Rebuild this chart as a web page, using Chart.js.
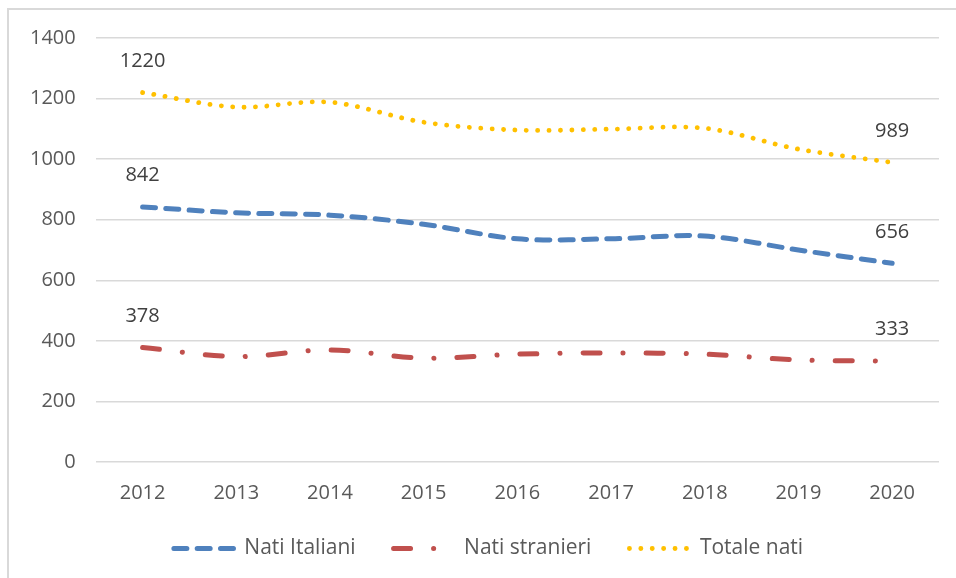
<!DOCTYPE html>
<html>
<head>
<meta charset="utf-8">
<script src="https://cdn.jsdelivr.net/npm/chart.js@4"></script>
<style>
    html, body { margin: 0; padding: 0; background: #fff; overflow: hidden; }
    #frame {
        position: absolute; left: 7px; top: 8px; width: 1200px; height: 800px;
        border-left: 2px solid #d9d9d9; border-top: 2px solid #d9d9d9;
    }
    #wrap { position: absolute; left: 0; top: 0; width: 956px; height: 578px; }
</style>
</head>
<body>
<div id="frame"></div>
<div id="wrap"><canvas id="natiChart" width="956" height="578"></canvas></div>
<script>
// Data
const YEARS = ["2012", "2013", "2014", "2015", "2016", "2017", "2018", "2019", "2020"];
const NATI_ITALIANI = [842, 823, 815, 785, 737, 737, 746, 700, 656];
const NATI_STRANIERI = [378, 348, 370, 343, 356, 360, 356, 337, 333];
const TOTALE_NATI = [1220, 1172, 1188, 1122, 1096, 1099, 1102, 1033, 989];
const Y_TICKS = [0, 200, 400, 600, 800, 1000, 1200, 1400];

const FONT = "'Open Sans', 'Liberation Sans', sans-serif";

// Labels on the first and last point of each line
const endLabels = {
    id: "endLabels",
    afterDatasetsDraw(chart) {
        const ctx = chart.ctx;
        ctx.save();
        ctx.font = "20px " + FONT;
        ctx.fillStyle = "#404040";
        ctx.textAlign = "center";
        ctx.textBaseline = "middle";
        chart.data.datasets.forEach((ds, di) => {
            const meta = chart.getDatasetMeta(di);
            [0, ds.data.length - 1].forEach(i => {
                const pt = meta.data[i];
                ctx.fillText(String(ds.data[i]), pt.x, pt.y - 31.5);
            });
        });
        ctx.restore();
    }
};

// Legend: shorter box, moved up under the axis labels and a bit to the right
const legendPlace = {
    id: "legendPlace",
    beforeUpdate(chart) {
        const lg = chart.legend;
        if (lg && !lg._patched) {
            const fit = lg.fit;
            lg.fit = function () { fit.call(this); this.height = 54; };
            lg._patched = true;
        }
    },
    afterLayout(chart) {
        const lg = chart.legend;
        lg.top -= 24;
        lg.bottom -= 24;
        lg.left += 14;
        lg.right += 14;
    }
};

const ctx = document.getElementById("natiChart").getContext("2d");
new Chart(ctx, {
    type: "line",
    data: {
        labels: YEARS,
        datasets: [{
            label: "Nati Italiani",
            data: NATI_ITALIANI,
            borderColor: "#4f81bd",
            backgroundColor: "#4f81bd",
            borderWidth: 5,
            borderDash: [13, 10.3],
            borderCapStyle: "round",
        }, {
            label: "Nati stranieri",
            data: NATI_STRANIERI,
            borderColor: "#c0504d",
            backgroundColor: "#c0504d",
            borderWidth: 5,
            borderDash: [17, 23, 0.1, 23],
            borderCapStyle: "round",
        }, {
            label: "Totale nati",
            data: TOTALE_NATI,
            borderColor: "#ffc000",
            backgroundColor: "#ffc000",
            borderWidth: 4.8,
            borderDash: [0.1, 11.3],
            borderCapStyle: "round",
        }]
    },
    options: {
        responsive: false,
        animation: false,
        devicePixelRatio: 1,
        layout: { padding: { left: 10, right: 17, top: 38, bottom: 0 } },
        elements: {
            line: { tension: 0.33, fill: false },
            point: { radius: 0, hoverRadius: 0 }
        },
        plugins: {
            tooltip: { enabled: false },
            legend: {
                position: "bottom",
                labels: {
                    usePointStyle: true,
                    pointStyleWidth: 60,
                    padding: 38,
                    color: "#595959",
                    font: { family: FONT, size: 21 },
                    generateLabels(chart) {
                        return chart.data.datasets.map((ds, i) => ({
                            text: ds.label,
                            fillStyle: ds.borderColor,
                            strokeStyle: ds.borderColor,
                            fontColor: "#595959",
                            lineWidth: ds.borderWidth,
                            lineDash: ds.borderDash,
                            lineCap: "round",
                            pointStyle: "line",
                            hidden: false,
                            datasetIndex: i
                        }));
                    }
                }
            }
        },
        scales: {
            x: {
                offset: true,
                grid: { display: false, drawTicks: false },
                border: { display: false },
                ticks: { color: "#595959", padding: 19, font: { family: FONT, size: 20 } }
            },
            y: {
                min: 0,
                max: 1400,
                afterBuildTicks(axis) { axis.ticks = Y_TICKS.map(v => ({ value: v })); },
                grid: { color: "#d9d9d9", lineWidth: 1.5, drawTicks: false },
                border: { display: false },
                ticks: {
                    color: "#595959", padding: 20, font: { family: FONT, size: 20 },
                    callback: v => String(v)
                }
            }
        }
    },
    plugins: [endLabels, legendPlace]
});
</script>
</body>
</html>
